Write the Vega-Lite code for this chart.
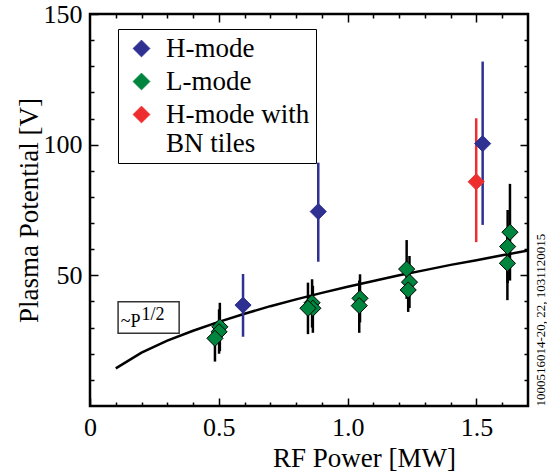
{
  "$schema": "https://vega.github.io/schema/vega-lite/v6.json",
  "width": 438,
  "height": 392,
  "autosize": {"type": "none"},
  "padding": {"left": 90, "top": 14, "right": 19, "bottom": 70},
  "background": "white",
  "config": {
    "view": {"stroke": "black", "strokeWidth": 2.5},
    "font": "Liberation Serif",
    "legend": {"labelFont": "Liberation Serif", "titleFont": "Liberation Serif"},
    "axis": {
      "domain": false,
      "grid": false,
      "tickColor": "black",
      "tickWidth": 1.5,
      "labelFont": "Liberation Serif",
      "titleFont": "Liberation Serif",
      "labelColor": "black",
      "titleColor": "black",
      "titleFontWeight": "normal",
      "labelOverlap": false,
      "labelFlush": false
    }
  },
  "datasets": {
    "curve": [
      {"p": 0.1, "v": 14.4}, {"p": 0.2, "v": 20.4}, {"p": 0.3, "v": 25.0},
      {"p": 0.4, "v": 28.8}, {"p": 0.5, "v": 32.2}, {"p": 0.6, "v": 35.3},
      {"p": 0.7, "v": 38.2}, {"p": 0.8, "v": 40.8}, {"p": 0.9, "v": 43.3},
      {"p": 1.0, "v": 45.6}, {"p": 1.1, "v": 47.8}, {"p": 1.2, "v": 50.0},
      {"p": 1.3, "v": 52.0}, {"p": 1.4, "v": 54.0}, {"p": 1.5, "v": 55.8},
      {"p": 1.6, "v": 57.7}, {"p": 1.7, "v": 59.5}
    ],
    "points": [
      {"p": 0.504, "v": 30.3, "lo": 21.0, "hi": 39.5, "mode": "L-mode"},
      {"p": 0.501, "v": 28.4, "lo": 20.0, "hi": 37.0, "mode": "L-mode"},
      {"p": 0.485, "v": 25.9, "lo": 17.0, "hi": 32.0, "mode": "L-mode"},
      {"p": 0.862, "v": 39.5, "lo": 30.0, "hi": 48.5, "mode": "L-mode"},
      {"p": 0.865, "v": 37.4, "lo": 28.0, "hi": 46.0, "mode": "L-mode"},
      {"p": 0.846, "v": 37.4, "lo": 27.5, "hi": 47.2, "mode": "L-mode"},
      {"p": 1.048, "v": 41.2, "lo": 32.0, "hi": 50.4, "mode": "L-mode"},
      {"p": 1.045, "v": 38.4, "lo": 28.0, "hi": 48.0, "mode": "L-mode"},
      {"p": 1.229, "v": 52.4, "lo": 41.0, "hi": 63.5, "mode": "L-mode"},
      {"p": 1.240, "v": 47.4, "lo": 37.5, "hi": 57.4, "mode": "L-mode"},
      {"p": 1.235, "v": 44.4, "lo": 36.0, "hi": 52.0, "mode": "L-mode"},
      {"p": 1.630, "v": 66.5, "lo": 48.0, "hi": 85.0, "mode": "L-mode"},
      {"p": 1.621, "v": 61.0, "lo": 47.0, "hi": 75.0, "mode": "L-mode"},
      {"p": 1.620, "v": 54.6, "lo": 40.5, "hi": 68.0, "mode": "L-mode"},
      {"p": 0.594, "v": 38.6, "lo": 26.5, "hi": 50.5, "mode": "H-mode"},
      {"p": 0.886, "v": 74.4, "lo": 55.2, "hi": 93.1, "mode": "H-mode"},
      {"p": 1.524, "v": 100.4, "lo": 69.3, "hi": 131.8, "mode": "H-mode"},
      {"p": 1.499, "v": 85.8, "lo": 62.7, "hi": 110.1, "mode": "H-mode with|BN tiles"}
    ],
    "box": [{"x1": 0.109, "x2": 0.346, "y1": 27.8, "y2": 39.9}],
    "note": [
      {"tx": 0.119, "ty": 30.2, "t": "~P"},
      {"tx": 0.2, "ty": 32.9, "t": "1/2"}
    ]
  },
  "layer": [
    {
      "data": {"name": "curve"},
      "mark": {"type": "line", "color": "black", "strokeWidth": 2.5},
      "encoding": {
        "x": {
          "field": "p", "type": "quantitative",
          "scale": {"domain": [0, 1.7], "nice": false, "zero": false},
          "axis": {
            "orient": "bottom", "values": [0, 0.5, 1, 1.5], "tickSize": -8,
            "labelFontSize": 26, "labelPadding": 16,
            "labelExpr": "datum.value == 0 ? '0' : format(datum.value, '.1f')",
            "title": "RF Power [MW]", "titleFontSize": 27,
            "titleX": 274, "titleY": 60, "titleAlign": "center", "titleBaseline": "alphabetic"
          }
        },
        "y": {
          "field": "v", "type": "quantitative",
          "scale": {"domain": [0, 150], "nice": false, "zero": false},
          "axis": {
            "orient": "left", "values": [50, 100, 150], "tickSize": -8,
            "labelFontSize": 26, "labelPadding": 16,
            "title": "Plasma Potential [V]", "titleFontSize": 27,
            "titleX": -61, "titleY": 196, "titleAngle": 270,
            "titleAlign": "center", "titleBaseline": "middle"
          }
        }
      }
    },
    {
      "data": {"name": "points"},
      "transform": [{"filter": "datum.mode == 'L-mode'"}],
      "mark": {"type": "rule", "strokeWidth": 2.5, "color": "black"},
      "encoding": {
        "x": {
          "field": "p", "type": "quantitative",
          "axis": {
            "orient": "bottom",
            "values": [0.1, 0.2, 0.3, 0.4, 0.6, 0.7, 0.8, 0.9, 1.1, 1.2, 1.3, 1.4, 1.6],
            "tickSize": -4, "labels": false, "title": null
          }
        },
        "y": {
          "field": "lo", "type": "quantitative",
          "axis": {
            "orient": "left",
            "values": [10, 20, 30, 40, 60, 70, 80, 90, 110, 120, 130, 140],
            "tickSize": -4, "labels": false, "title": null
          }
        },
        "y2": {"field": "hi"}
      }
    },
    {
      "data": {"name": "points"},
      "transform": [{"filter": "datum.mode != 'L-mode'"}],
      "mark": {"type": "rule", "strokeWidth": 2.5},
      "encoding": {
        "x": {"field": "p", "type": "quantitative", "axis": null},
        "y": {"field": "lo", "type": "quantitative", "axis": null},
        "y2": {"field": "hi"},
        "color": {"field": "mode", "type": "nominal"}
      }
    },
    {
      "data": {"name": "points"},
      "mark": {"type": "point", "shape": "diamond", "filled": true, "size": 260, "strokeWidth": 1, "opacity": 1},
      "encoding": {
        "x": {
          "field": "p", "type": "quantitative",
          "axis": {"orient": "top", "values": [0.5, 1, 1.5], "tickSize": -8, "labels": false, "title": null}
        },
        "y": {
          "field": "v", "type": "quantitative",
          "axis": {
            "orient": "right", "values": [50, 100], "tickSize": -8, "labels": false,
            "title": "1000516014-20, 22, 1031120015", "titleFontSize": 13,
            "titleAngle": 270, "titleX": 12, "titleY": 392,
            "titleAlign": "left", "titleBaseline": "middle"
          }
        },
        "color": {
          "field": "mode", "type": "nominal",
          "scale": {"domain": ["H-mode", "L-mode", "H-mode with|BN tiles"], "range": ["#2E3192", "#00853F", "#EE2E2E"]},
          "legend": {
            "title": null, "orient": "none", "legendX": 28, "legendY": 15,
            "strokeColor": "black", "fillColor": "white",
            "padding": 6, "symbolType": "diamond", "symbolSize": 280, "symbolOffset": 4,
            "symbolStrokeWidth": 1,
            "labelFont": "Liberation Serif", "labelFontSize": 27, "labelColor": "black",
            "labelOffset": 11, "rowPadding": 5, "labelLimit": 400,
            "labelExpr": "split(datum.label, '|')",
            "encode": {"legend": {"update": {"strokeWidth": {"value": 2}}}}
          }
        },
        "stroke": {
          "field": "mode", "type": "nominal",
          "scale": {"domain": ["H-mode", "L-mode", "H-mode with|BN tiles"], "range": ["#2E3192", "#000000", "#EE2E2E"]},
          "legend": {
            "title": null, "orient": "none", "legendX": 28, "legendY": 15,
            "strokeColor": "black", "fillColor": "white",
            "padding": 6, "symbolType": "diamond", "symbolSize": 280, "symbolOffset": 4,
            "symbolStrokeWidth": 1,
            "labelFont": "Liberation Serif", "labelFontSize": 27, "labelColor": "black",
            "labelOffset": 11, "rowPadding": 5, "labelLimit": 400,
            "labelExpr": "split(datum.label, '|')",
            "encode": {"legend": {"update": {"strokeWidth": {"value": 2}}}}
          }
        }
      }
    },
    {
      "data": {"name": "box"},
      "mark": {"type": "rect", "fill": "white", "stroke": "#333333", "strokeWidth": 1.5},
      "encoding": {
        "x": {
          "field": "x1", "type": "quantitative",
          "axis": {
            "orient": "top",
            "values": [0.1, 0.2, 0.3, 0.4, 0.6, 0.7, 0.8, 0.9, 1.1, 1.2, 1.3, 1.4, 1.6],
            "tickSize": -4, "labels": false, "title": null
          }
        },
        "x2": {"field": "x2"},
        "y": {
          "field": "y1", "type": "quantitative",
          "axis": {
            "orient": "right",
            "values": [10, 20, 30, 40, 60, 70, 80, 90, 110, 120, 130, 140],
            "tickSize": -4, "labels": false, "title": null
          }
        },
        "y2": {"field": "y2"}
      }
    },
    {
      "data": {"name": "note"},
      "mark": {"type": "text", "font": "Liberation Serif", "fontSize": 18, "align": "left", "baseline": "alphabetic", "color": "black"},
      "encoding": {
        "x": {"field": "tx", "type": "quantitative", "axis": null},
        "y": {"field": "ty", "type": "quantitative", "axis": null},
        "text": {"field": "t"}
      }
    }
  ],
  "resolve": {"axis": {"x": "independent", "y": "independent"}}
}
